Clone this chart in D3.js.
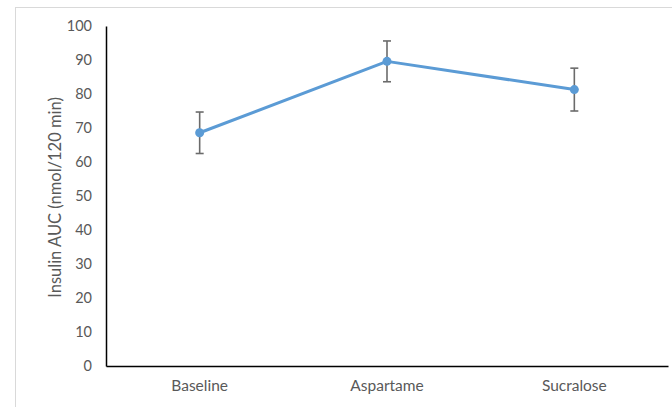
<!DOCTYPE html>
<html>
<head>
<meta charset="utf-8">
<script src="https://cdn.jsdelivr.net/npm/d3@7"></script>
<style>
  html, body { margin: 0; padding: 0; background: #fff; }
  svg { display: block; }
  text { font-family: Lato, "Open Sans", sans-serif; fill: #595959; }
</style>
</head>
<body>
<svg id="chart" width="672" height="407"></svg>
<script>
// Insulin AUC by condition (mean ± error)
const categories = ["Baseline", "Aspartame", "Sucralose"];
const means = [68.6, 89.6, 81.3];
const errors = [6.1, 6.0, 6.3];
const yTicks = [0, 10, 20, 30, 40, 50, 60, 70, 80, 90, 100];
const yTitle = "Insulin AUC (nmol/120 min)";

const svg = d3.select("#chart");
const W = 672, H = 407;
const plot = { left: 106, right: 668, top: 26, bottom: 366 };

// chart area frame
svg.append("rect")
  .attr("x", 15.5).attr("y", 7.5)
  .attr("width", W - 15).attr("height", H)
  .attr("fill", "#fff").attr("stroke", "#d9d9d9").attr("stroke-width", 1);

const x = d3.scaleBand().domain(categories).range([plot.left, plot.right]);
const y = d3.scaleLinear().domain([0, 100]).range([plot.bottom, plot.top]);

// y axis
const yAxis = svg.append("g")
  .attr("transform", `translate(${plot.left},0)`)
  .call(d3.axisLeft(y).tickValues(yTicks).tickSize(0).tickPadding(14));
yAxis.select(".domain").attr("stroke", "#000").attr("stroke-width", 1.5);
yAxis.selectAll("text").style("font-size", "14.5px").attr("fill", "#595959")
  .style("font-family", "Lato, sans-serif");

// x axis
const xAxis = svg.append("g")
  .attr("transform", `translate(0,${plot.bottom})`)
  .call(d3.axisBottom(x).tickSize(0).tickPadding(14));
xAxis.select(".domain").attr("stroke", "#000").attr("stroke-width", 1.5);
xAxis.selectAll("text").style("font-size", "15.5px").attr("fill", "#595959")
  .style("font-family", "Lato, sans-serif");

// y axis title
svg.append("text")
  .attr("transform", "translate(61,197.5) rotate(-90)")
  .attr("text-anchor", "middle")
  .style("font-size", "16.5px")
  .text(yTitle);

const data = categories.map((c, i) => ({ c, m: means[i], e: errors[i] }));
const cx = d => x(d.c) + x.bandwidth() / 2;

// error bars
const eb = svg.append("g").attr("stroke", "#6b6b6b").attr("stroke-width", 1.6).attr("fill", "none");
data.forEach(d => {
  eb.append("line").attr("x1", cx(d)).attr("x2", cx(d)).attr("y1", y(d.m + d.e)).attr("y2", y(d.m - d.e));
  eb.append("line").attr("x1", cx(d) - 4).attr("x2", cx(d) + 4).attr("y1", y(d.m + d.e)).attr("y2", y(d.m + d.e));
  eb.append("line").attr("x1", cx(d) - 4).attr("x2", cx(d) + 4).attr("y1", y(d.m - d.e)).attr("y2", y(d.m - d.e));
});

// series line
svg.append("path")
  .datum(data)
  .attr("fill", "none")
  .attr("stroke", "#5b9bd5")
  .attr("stroke-width", 3)
  .attr("stroke-linejoin", "round")
  .attr("d", d3.line().x(cx).y(d => y(d.m)));

// markers
svg.append("g").selectAll("circle")
  .data(data).join("circle")
  .attr("cx", cx).attr("cy", d => y(d.m)).attr("r", 4.5)
  .attr("fill", "#5b9bd5");
</script>
</body>
</html>
